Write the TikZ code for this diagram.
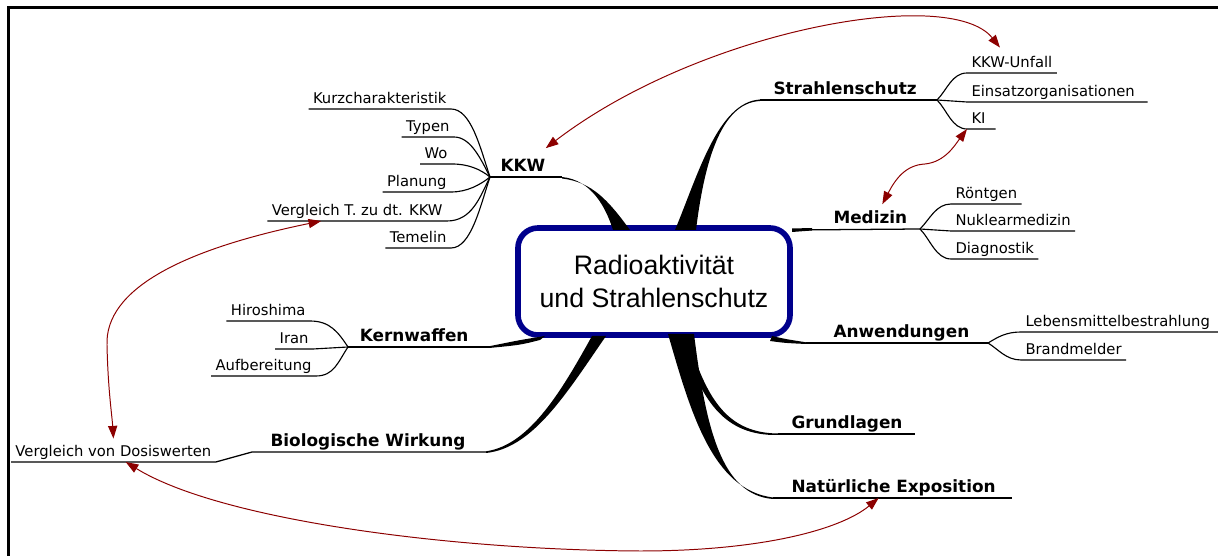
\documentclass[tikz,border=0pt]{standalone}
\usepackage{fontspec}
\setmainfont{Liberation Sans}
\newfontfamily\mapfont{DejaVu Sans}
\usetikzlibrary{arrows.meta,calc}
\definecolor{boxblue}{RGB}{0,0,140}
\definecolor{linkred}{RGB}{140,0,0}

\begin{document}
\begin{tikzpicture}[
  x=0.025cm, y=-0.025cm,
  >={Triangle[length=9pt,width=6.5pt]},
  core/.style={draw=boxblue, line width=4pt, rounded corners=0.5cm, minimum width=6.8cm,
               minimum height=2.675cm, align=center, font=\fontsize{19}{23.4}\selectfont},
  topic/.style={font=\mapfont\bfseries\fontsize{12}{14}\selectfont, inner xsep=3pt, inner ysep=1.5pt,
                text height=.75em, text depth=.25em},
  leaf/.style={font=\mapfont\fontsize{10.5}{12}\selectfont, inner xsep=3pt, inner ysep=1pt,
               text height=.75em, text depth=.25em},
  stem/.style={draw, line width=0.9pt},
  twig/.style={draw, line width=0.8pt},
  branch/.style={fill=black},
  link/.style={draw=linkred, line width=0.7pt, <->}
]
  \useasboundingbox (0,0) rectangle (1218,556);
  \draw[line width=2.2pt] (8.5,556) -- (8.5,7.5) -- (1218,7.5);

  \node[core] (core) at (654,281.5) {Radioaktivität\\und Strahlenschutz};

  % KKW
  \coordinate (kkwj) at (490,177);
  \coordinate (kkwe) at (562,177);
  \node[topic, anchor=south west] (kkw) at (496,177) {KKW};
  \node[leaf, anchor=south east] (kurz) at (451,109) {Kurzcharakteristik};
  \node[leaf, anchor=south east] (typen) at (454,137) {Typen};
  \node[leaf, anchor=south east] (wo) at (452,164) {Wo};
  \node[leaf, anchor=south east] (planung) at (451,192) {Planung};
  \node[leaf, anchor=south east] (vergl) at (447,221) {Vergleich T. zu dt. KKW};
  \node[leaf, anchor=south east] (temelin) at (451,248) {Temelin};
  \fill[branch] (613,230) .. controls (606,208) and (592,180) .. (562,177)
    -- (562,178.5) .. controls (592,182) and (608,200) .. (630,230) -- cycle;
  \draw[stem] (kkwj) -- (kkwe);
  \draw[twig] (kurz.south west) -- (kurz.south east) .. controls +(20,0) and +(-10,-30) .. (kkwj);
  \draw[twig] (typen.south west) -- (typen.south east) .. controls +(16,0) and +(-10,-20) .. (kkwj);
  \draw[twig] (wo.south west) -- (wo.south east) .. controls +(16,0) and +(-10,-8) .. (kkwj);
  \draw[twig] (planung.south west) -- (planung.south east) .. controls +(16,0) and +(-10,8) .. (kkwj);
  \draw[twig] (vergl.south west) -- (vergl.south east) .. controls +(25,0) and +(-10,20) .. (kkwj);
  \draw[twig] (temelin.south west) -- (temelin.south east) .. controls +(20,0) and +(-10,30) .. (kkwj);

  % Strahlenschutz
  \coordinate (ssj) at (937,100);
  \coordinate (sse) at (760,100);
  \node[topic, anchor=south west] (strahl) at (769,100) {Strahlenschutz};
  \node[leaf, anchor=south west] (unfall) at (967,73) {KKW-Unfall};
  \node[leaf, anchor=south west] (einsatz) at (967,102) {Einsatzorganisationen};
  \node[leaf, anchor=south west] (ki) at (967,129) {KI};
  \fill[branch] (675,230) .. controls (698,175) and (718,102) .. (760,99.5)
    -- (760,101) .. controls (720,103) and (704,165) .. (696,230) -- cycle;
  \draw[stem] (sse) -- (ssj);
  \draw[twig] (ssj) .. controls +(10,-10) and +(-15,0) .. (unfall.south west) -- (unfall.south east);
  \draw[twig] (ssj) -- (einsatz.south west) -- ([xshift=6pt]einsatz.south east);
  \draw[twig] (ssj) .. controls +(10,10) and +(-15,0) .. (ki.south west) -- ([xshift=4pt]ki.south east);

  % Medizin
  \coordinate (mj) at (920,229);
  \coordinate (me) at (792,230);
  \node[topic, anchor=south west] (medizin) at (829,229) {Medizin};
  \node[leaf, anchor=south west] (roentgen) at (951,204) {Röntgen};
  \node[leaf, anchor=south west] (nukl) at (951,231) {Nuklearmedizin};
  \node[leaf, anchor=south west] (diag) at (951,259) {Diagnostik};
  \fill[branch] (792,228.5) -- (812,228) -- (812,230.5) -- (792,232) -- cycle;
  \draw[stem] (me) -- (mj);
  \draw[twig] (mj) .. controls +(10,-10) and +(-15,0) .. (roentgen.south west) -- (roentgen.south east);
  \draw[twig] (mj) -- (nukl.south west) -- (nukl.south east);
  \draw[twig] (mj) .. controls +(10,10) and +(-15,0) .. (diag.south west) -- (diag.south east);

  % Anwendungen
  \coordinate (aj) at (988,343);
  \coordinate (ae) at (806,343);
  \node[topic, anchor=south west] (anw) at (829,343) {Anwendungen};
  \node[leaf, anchor=south west] (lebens) at (1021,332) {Lebensmittelbestrahlung};
  \node[leaf, anchor=south west] (brand) at (1021,360) {Brandmelder};
  \fill[branch] (772,336) .. controls (785,339) .. (806,342.3) -- (806,344) .. controls (785,343) .. (770,341) -- cycle;
  \draw[stem] (ae) -- (aj);
  \draw[twig] (aj) .. controls +(10,-6) and +(-15,0) .. (lebens.south west) -- (1218,332);
  \draw[twig] (aj) .. controls +(10,6) and +(-15,0) .. (brand.south west) -- (brand.south east);

  % Grundlagen, Natuerliche Exposition
  \coordinate (gre) at (778,434);
  \coordinate (nae) at (773,498);
  \node[topic, anchor=south west] (grund) at (787,434) {Grundlagen};
  \node[topic, anchor=south west] (natur) at (787,498) {Natürliche Exposition};
  \fill[branch] (668,334) .. controls (690,410) and (712,490) .. (773,497.5)
    -- (773,499) .. controls (722,495) and (706,430) .. (694,334) -- cycle;
  \fill[branch] (690,345) .. controls (708,400) and (728,433) .. (778,433.5)
    -- (778,435) .. controls (724,436) and (704,400) .. (687,356) -- cycle;
  \draw[stem] (gre) -- (grund.south east) -- +(8,0);
  \draw[stem] (nae) -- (natur.south east) -- +(12,0);

  % Kernwaffen
  \coordinate (kj) at (348,347);
  \coordinate (ke) at (489,347);
  \node[topic, anchor=south east] (kern) at (473,347) {Kernwaffen};
  \node[leaf, anchor=south east] (hiro) at (310,321) {Hiroshima};
  \node[leaf, anchor=south east] (iran) at (313,349) {Iran};
  \node[leaf, anchor=south east] (aufb) at (316,376) {Aufbereitung};
  \fill[branch] (545,336) .. controls (520,340) .. (489,346.3) -- (489,348) .. controls (520,345) .. (540,340) -- cycle;
  \draw[stem] (kj) -- (ke);
  \draw[twig] (hiro.south west) -- (hiro.south east) .. controls +(20,0) and +(-10,-15) .. (kj);
  \draw[twig] (iran.south west) -- (iran.south east) -- (kj);
  \draw[twig] (aufb.south west) -- (aufb.south east) .. controls +(18,0) and +(-10,15) .. (kj);

  % Biologische Wirkung
  \coordinate (bioe) at (486,452);
  \coordinate (bioj) at (252,452);
  \node[topic, anchor=south east] (bio) at (470,452) {Biologische Wirkung};
  \node[leaf, anchor=south west] (dosis) at (11,462) {Vergleich von Dosiswerten};
  \fill[branch] (592,336) .. controls (562,390) and (530,445) .. (486,451.3)
    -- (486,453) .. controls (533,448) and (566,394) .. (606,336) -- cycle;
  \draw[stem] (bioe) -- (bioj) -- (dosis.south east) -- (dosis.south west);

  % cross links
  \draw[link] ([shift={(-4,-10)}]kkw.north east) .. controls (700,30) and (950,-15)
    .. ([shift={(33,-8)}]unfall.north west);
  \draw[link] ([shift={(12,-6)}]medizin.north) .. controls (895,180) and (905,165) .. (925,164)
    .. controls (945,162) and (955,145) .. (ki.south west);
  \draw[link] ($(vergl.south west)!.3!(vergl.south east)$) .. controls (180,250) and (105,290) .. (107,345)
    .. controls (108,390) and (112,415) .. ([shift={(0,-6)}]dosis.north);
  \draw[link] ($(dosis.south west)!.56!(dosis.south east)$) .. controls (220,520) and (450,550) .. (640,551)
    .. controls (760,551) and (840,530) .. ($(natur.south west)!.43!(natur.south east)$);
\end{tikzpicture}
\end{document}
